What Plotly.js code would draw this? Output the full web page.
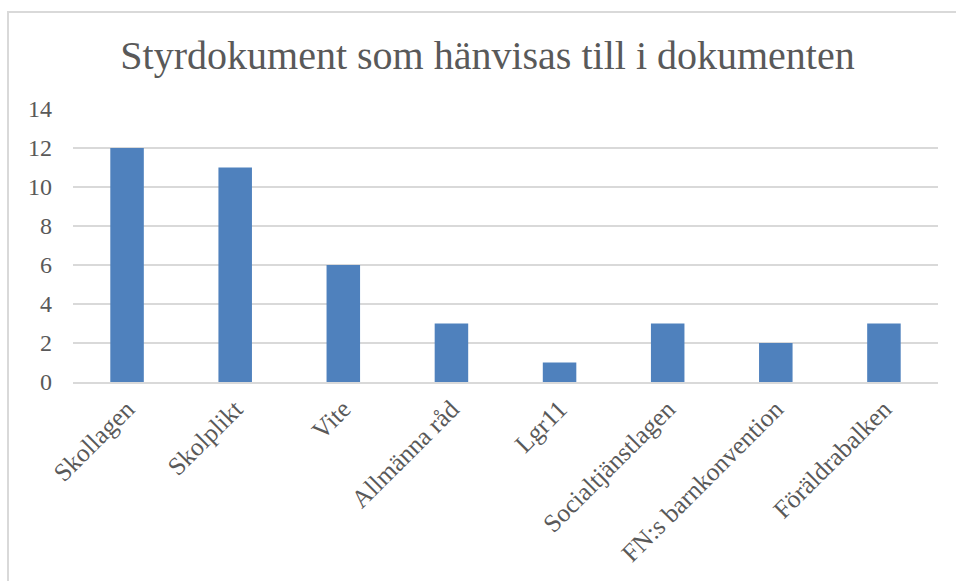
<!DOCTYPE html>
<html><head><meta charset="utf-8">
<script src="https://cdn.plot.ly/plotly-3.0.1.min.js"></script>
<style>
html,body{margin:0;padding:0;background:#fff;overflow:hidden}
#chart{position:absolute;left:0;top:0;width:956px;height:581px}
#frame{position:absolute;left:7px;top:11px;width:970px;height:600px;border-left:2px solid #d9d9d9;border-top:2px solid #d9d9d9;pointer-events:none}
</style></head>
<body>
<div id="chart"></div>
<div id="frame"></div>
<script>
const categories = ["Skollagen","Skolplikt","Vite","Allmänna råd","Lgr11","Socialtjänstlagen","FN:s barnkonvention","Föräldrabalken"];
const values = [12, 11, 6, 3, 1, 3, 2, 3];
const yTicks = [0,2,4,6,8,10,12,14];
const titleText = "Styrdokument som hänvisas till i dokumenten";

const font = "Liberation Serif, DejaVu Serif, serif";
Plotly.newPlot("chart", [{
  type: "bar",
  x: categories,
  y: values,
  marker: {color: "#4f81bd", line: {color: "#4f81bd", width: 0}},
  hoverinfo: "x+y"
}], {
  width: 956, height: 581,
  margin: {l: 73, r: 18, t: 109, b: 199},
  paper_bgcolor: "#fff", plot_bgcolor: "#fff",
  bargap: 0.69,
  showlegend: false,
  title: {text: titleText, font: {family: font, size: 40, color: "#595959"},
          x: 0.51, xref: "container", xanchor: "center", y: 1 - 55/581, yref: "container", yanchor: "middle"},
  xaxis: {
    tickangle: -45, tickfont: {family: font, size: 25.5, color: "#595959"},
    showline: true, linecolor: "#d9d9d9", linewidth: 2, ticks: "", showgrid: false
  },
  yaxis: {
    range: [0, 14], tickvals: yTicks, ticktext: yTicks.map(String),
    tickfont: {family: font, size: 24, color: "#595959"},
    gridcolor: "#d9d9d9", gridwidth: 1.5, zeroline: false, showline: false, ticks: "", ticklen: 0,
    ticklabelstandoff: 20
  }
}, {staticPlot: true});
</script>
</body></html>
